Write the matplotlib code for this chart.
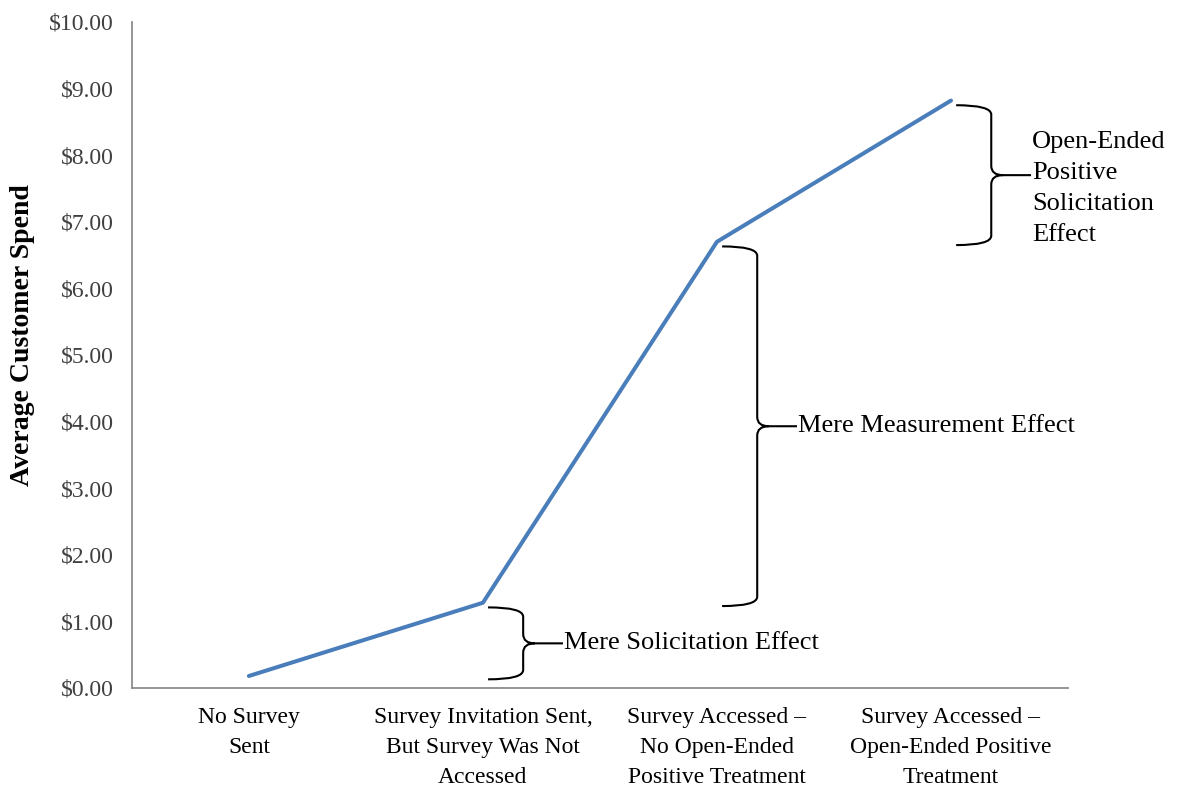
import matplotlib
matplotlib.use("Agg")
import matplotlib.pyplot as plt
from matplotlib.path import Path
from matplotlib.patches import PathPatch
from matplotlib.ticker import FuncFormatter

# Average spend per condition
conditions = [
    "No Survey\nSent",
    "Survey Invitation Sent,\nBut Survey Was Not\nAccessed",
    "Survey Accessed \u2013\nNo Open-Ended\nPositive Treatment",
    "Survey Accessed \u2013\nOpen-Ended Positive\nTreatment",
]
spend = [0.18, 1.28, 6.70, 8.82]

# Each effect spans the step between two neighbouring conditions
effect_labels = [
    "Mere Solicitation Effect",
    "Mere Measurement Effect",
    "Open-Ended\nPositive\nSolicitation\nEffect",
]

plt.rcParams["font.family"] = ["Liberation Serif", "DejaVu Serif"]

fig = plt.figure(figsize=(11.88, 7.96), dpi=100)
ax = fig.add_axes([0.111, 0.1357, 0.788, 0.8367])

x = list(range(len(conditions)))
ax.plot(x, spend, color="#4a7ebb", lw=2.9, solid_capstyle="round", solid_joinstyle="round")

ax.set_xlim(-0.5, len(conditions) - 0.5)
ax.set_ylim(0, 10)
ax.set_yticks(range(0, 11))
ax.yaxis.set_major_formatter(FuncFormatter(lambda v, _: f"${v:.2f}"))
ax.set_xticks(x)
ax.set_xticklabels(conditions, fontsize=17, linespacing=1.56)
ax.tick_params(axis="y", length=0, pad=13, labelsize=17, labelcolor="#404040")
ax.tick_params(axis="x", length=0, pad=14)

for side in ("top", "right"):
    ax.spines[side].set_visible(False)
for side in ("left", "bottom"):
    ax.spines[side].set_color("#8c8c8c")
    ax.spines[side].set_linewidth(1.3)

ax.set_ylabel("Average Customer Spend", fontsize=20, fontweight="bold")
ax.yaxis.set_label_coords(-0.104, 0.53)


def brace(ax, x0, ytop, ybot, width=0.15, reach=0.17, rx=0.05, ry=0.14):
    """Right-facing curly brace from ytop down to ybot, starting at x0."""
    x1 = x0 + width
    ym = (ytop + ybot) / 2
    verts = [
        (x0, ytop), (x1, ytop), (x1, ytop - ry),
        (x1, ym + ry), (x1, ym), (x1 + rx, ym),
        (x1 + reach, ym),
        (x1 + rx, ym), (x1, ym), (x1, ym - ry),
        (x1, ybot + ry), (x1, ybot), (x0, ybot),
    ]
    codes = [
        Path.MOVETO, Path.CURVE3, Path.CURVE3,
        Path.LINETO, Path.CURVE3, Path.CURVE3,
        Path.LINETO,
        Path.MOVETO, Path.CURVE3, Path.CURVE3,
        Path.LINETO, Path.CURVE3, Path.CURVE3,
    ]
    ax.add_patch(PathPatch(Path(verts, codes), fill=False, lw=1.5,
                           edgecolor="black", clip_on=False))
    return x1 + reach, ym


for i, label in enumerate(effect_labels):
    lo, hi = spend[i], spend[i + 1]
    tip_x, tip_y = brace(ax, i + 1 + 0.022, hi - 0.07, lo - 0.05)
    dy = -0.2 if "\n" in label else 0
    ax.text(tip_x + 0.005, tip_y + dy, label, fontsize=19, ha="left",
            va="center", linespacing=1.52)

fig.savefig("out.png", dpi=100)
